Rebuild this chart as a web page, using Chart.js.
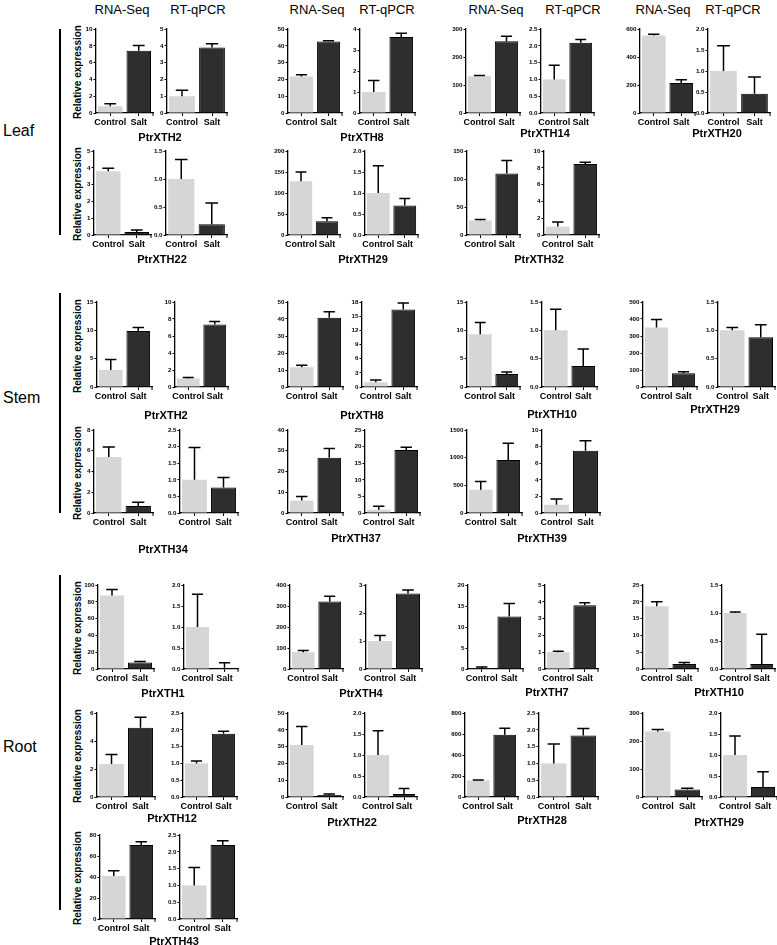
<!DOCTYPE html>
<html>
<head>
<meta charset="utf-8">
<script src="https://cdn.jsdelivr.net/npm/chart.js@4.4.1/dist/chart.umd.min.js"></script>
<style>
body { margin:0; width:777px; height:945px; background:#fff; position:relative; overflow:hidden; font-family:"Liberation Sans", Arial, sans-serif; color:#000; }
.abs { position:absolute; white-space:nowrap; }
.head { font-size:13px; top:2px; transform:translateX(-50%); }
.side { font-size:16px; left:3px; transform:translateY(-50%); }
.gene { font-size:11px; font-weight:bold; transform:translate(-50%,-50%); }
.ytitle { font-size:10px; font-weight:bold; transform:translate(-50%,-50%) rotate(-90deg); }
.vline { width:1.5px; background:#000; left:59px; }
</style>
</head>
<body>
<script>
// data: mean and upper error (SD) for Control / Salt
const categories = ['Control', 'Salt'];
const methods = ['RNA-Seq', 'RT-qPCR'];
const tissues = ['Leaf', 'Stem', 'Root'];
const genes = ['PtrXTH2', 'PtrXTH8', 'PtrXTH14', 'PtrXTH20', 'PtrXTH22', 'PtrXTH29', 'PtrXTH32',
    'PtrXTH2', 'PtrXTH8', 'PtrXTH10', 'PtrXTH29', 'PtrXTH34', 'PtrXTH37', 'PtrXTH39',
    'PtrXTH1', 'PtrXTH4', 'PtrXTH7', 'PtrXTH10', 'PtrXTH12', 'PtrXTH22', 'PtrXTH28', 'PtrXTH29', 'PtrXTH43'];

const rnaMean = [[0.8, 7.4], [21.8, 42.6], [131, 256], [553, 214], [3.8, 0.18], [128, 33], [26, 110],
    [3.0, 9.9], [11.6, 40.7], [9.3, 2.3], [350, 81], [5.4, 0.68], [6, 26.6], [420, 960],
    [87.5, 7.8], [80, 322], [0.1, 12.5], [18.7, 1.5], [2.35, 4.95], [31, 1.2], [158, 593], [234, 27], [41, 70.5]];
const rnaErr = [[0.3, 0.65], [1.0, 0.4], [3, 18], [9, 24], [0.18, 0.12], [22, 8], [1.5, 23],
    [1.85, 0.6], [1.2, 3.5], [2.1, 0.35], [47, 9], [0.95, 0.35], [2, 4.5], [150, 300],
    [7, 1.2], [8, 25], [0.35, 3.1], [1.3, 0.4], [0.68, 0.75], [11, 0.6], [4, 62], [7, 4], [5, 3]];
const rnaMax = [10, 50, 300, 600, 5, 200, 150, 15, 50, 15, 500, 8, 40, 1500, 100, 400, 20, 25, 6, 50, 800, 300, 80];
const rnaStep = [2, 10, 100, 200, 1, 50, 50, 5, 10, 5, 100, 2, 10, 500, 20, 100, 5, 5, 2, 10, 200, 100, 20];

const qpcrMean = [[1.0, 3.9], [1.0, 3.62], [1.0, 2.09], [1.0, 0.46], [1.0, 0.19], [1.0, 0.7], [1.0, 8.45],
    [1.0, 7.35], [1.0, 16.4], [1.0, 0.37], [1.0, 0.88], [1.0, 0.77], [1.0, 19], [1.0, 7.5],
    [1.0, 0.03], [1.0, 2.7], [1.0, 3.8], [1.0, 0.09], [1.0, 1.88], [1.0, 0.07], [1.0, 1.83], [1.0, 0.24], [1.0, 2.2]];
const qpcrErr = [[0.35, 0.22], [0.55, 0.18], [0.42, 0.1], [0.6, 0.4], [0.35, 0.38], [0.65, 0.17], [0.55, 0.2],
    [0.12, 0.35], [0.5, 1.4], [0.37, 0.3], [0.05, 0.22], [0.97, 0.3], [1.0, 0.8], [0.7, 1.2],
    [0.78, 0.12], [0.2, 0.12], [0.06, 0.15], [0.02, 0.53], [0.07, 0.08], [0.58, 0.13], [0.58, 0.21], [0.45, 0.36], [0.53, 0.13]];
const qpcrMax = [5, 4, 2.5, 2, 1.5, 2, 10, 10, 18, 1.5, 1.5, 2.5, 25, 10, 2, 3, 5, 1.5, 2.5, 2, 2.5, 2, 2.5];
const qpcrStep = [1, 1, 0.5, 0.5, 0.5, 0.5, 2, 2, 3, 0.5, 0.5, 0.5, 5, 2, 0.5, 1, 1, 0.5, 0.5, 0.5, 0.5, 0.5, 0.5];

// layout (pixels)
const rows = [[29, 113], [151, 235], [302, 387], [430, 513], [585, 669], [713, 797], [835, 919]];
// row, rna axis x, rna right, qpcr axis x, qpcr right, gene label x, gene label y
const panels = [
    [0, 96, 153, 167, 227, 160, 137], [0, 288, 342, 360, 415, 362, 137], [0, 466, 520, 541, 594, 545, 133], [0, 640, 695, 708, 770, 717, 133],
    [1, 94, 151, 166, 227, 162, 259], [1, 288, 340, 365, 418, 363, 259], [1, 467, 520, 544, 599, 539, 259],
    [2, 97, 152, 175, 228, 166, 415], [2, 288, 343, 362, 417, 362, 415], [2, 467, 520, 542, 597, 552, 414], [2, 643, 697, 718, 775, 715, 409],
    [3, 94, 153, 180, 238, 163, 549], [3, 288, 343, 365, 420, 356, 538], [3, 467, 522, 542, 600, 542, 538],
    [4, 98, 154, 184, 238, 163, 693], [4, 290, 343, 366, 422, 361, 693], [4, 468, 523, 545, 598, 547, 692], [4, 643, 698, 722, 775, 719, 692],
    [5, 97, 155, 183, 237, 172, 818], [5, 288, 343, 365, 417, 352, 822], [5, 465, 518, 539, 598, 542, 820], [5, 643, 702, 721, 777, 719, 822],
    [6, 100, 155, 180, 237, 174, 941]
];
const headX = [122, 198, 317, 387, 496, 573, 663, 733];
const sections = [[131, 29, 235], [398, 293, 513], [747, 575, 910]];

Chart.defaults.font.family = '"Liberation Sans", Arial, sans-serif';
Chart.defaults.color = '#000';

function addText(cls, text, x, y) {
    const d = document.createElement('div');
    d.className = 'abs ' + cls;
    d.textContent = text;
    if (x !== null) d.style.left = x + 'px';
    if (y !== null) d.style.top = y + 'px';
    document.body.appendChild(d);
    return d;
}

// upper error bars + end tick on the x axis
const errorBars = {
    id: 'errorBars',
    afterDatasetsDraw(chart) {
        const ctx = chart.ctx;
        const ds = chart.data.datasets[0];
        const meta = chart.getDatasetMeta(0);
        const y = chart.scales.y;
        ctx.save();
        ctx.strokeStyle = '#000';
        ctx.lineWidth = 1.5;
        meta.data.forEach(function(bar, i) {
            const top = y.getPixelForValue(ds.data[i] + ds.err[i]);
            const half = bar.width * 0.24;
            ctx.beginPath();
            ctx.moveTo(bar.x, bar.y);
            ctx.lineTo(bar.x, top);
            ctx.moveTo(bar.x - half, top);
            ctx.lineTo(bar.x + half, top);
            ctx.stroke();
        });
        const a = chart.chartArea;
        ctx.lineWidth = 1;
        ctx.beginPath();
        ctx.moveTo(a.right, a.bottom);
        ctx.lineTo(a.right, a.bottom + 3);
        ctx.stroke();
        ctx.restore();
    }
};

function makeChart(left, right, top, bottom, mean, err, max, step) {
    const yw = 30, pt = 6, pr = 8, xh = 22;
    const w = yw + (right - left) + pr, h = pt + (bottom - top) + xh;
    const c = document.createElement('canvas');
    c.width = w;
    c.height = h;
    c.style.cssText = 'position:absolute;left:' + (left - yw) + 'px;top:' + (top - pt) + 'px;width:' + w + 'px;height:' + h + 'px';
    document.body.appendChild(c);
    new Chart(c, {
        type: 'bar',
        data: {
            labels: categories,
            datasets: [{
                data: mean,
                err: err,
                backgroundColor: ['#d6d6d6', '#2e2e2e'],
                borderColor: ['#d6d6d6', '#000'],
                borderWidth: [0, 1],
                categoryPercentage: 1,
                barPercentage: 0.86
            }]
        },
        options: {
            responsive: false,
            animation: false,
            layout: { padding: { top: pt, right: pr, left: 0, bottom: 0 } },
            plugins: { legend: { display: false }, tooltip: { enabled: false } },
            scales: {
                x: {
                    grid: { offset: false, drawOnChartArea: false, tickLength: 3, color: '#000' },
                    border: { color: '#000', width: 1.3 },
                    ticks: { autoSkip: false, maxRotation: 0, minRotation: 0, padding: 1, color: '#000', font: { size: 9, weight: 'bold' } },
                    afterFit: function(s) { s.height = xh; }
                },
                y: {
                    min: 0,
                    max: max,
                    grid: { drawOnChartArea: false, tickLength: 2.5, color: '#000' },
                    border: { color: '#000', width: 1.3 },
                    ticks: {
                        stepSize: step,
                        padding: 1,
                        color: '#000',
                        font: { size: 6.2, weight: 'bold' },
                        callback: function(v) { return step < 1 ? v.toFixed(1) : v; }
                    },
                    afterFit: function(s) { s.width = yw; }
                }
            }
        },
        plugins: [errorBars]
    });
}

// headers
headX.forEach(function(x, i) { addText('head', methods[i % 2], x, 2); });

// tissue labels and brackets
sections.forEach(function(s, i) {
    addText('side', tissues[i], null, s[0]);
    const l = document.createElement('div');
    l.className = 'abs vline';
    l.style.top = s[1] + 'px';
    l.style.height = (s[2] - s[1]) + 'px';
    document.body.appendChild(l);
});

// y titles
rows.forEach(function(r) {
    addText('ytitle', 'Relative expression', 77, (r[0] + r[1]) / 2 + 1);
});

// charts
panels.forEach(function(p, i) {
    const r = rows[p[0]];
    makeChart(p[1], p[2], r[0], r[1], rnaMean[i], rnaErr[i], rnaMax[i], rnaStep[i]);
    makeChart(p[3], p[4], r[0], r[1], qpcrMean[i], qpcrErr[i], qpcrMax[i], qpcrStep[i]);
    addText('gene', genes[i], p[5], p[6]);
});
</script>
</body>
</html>
